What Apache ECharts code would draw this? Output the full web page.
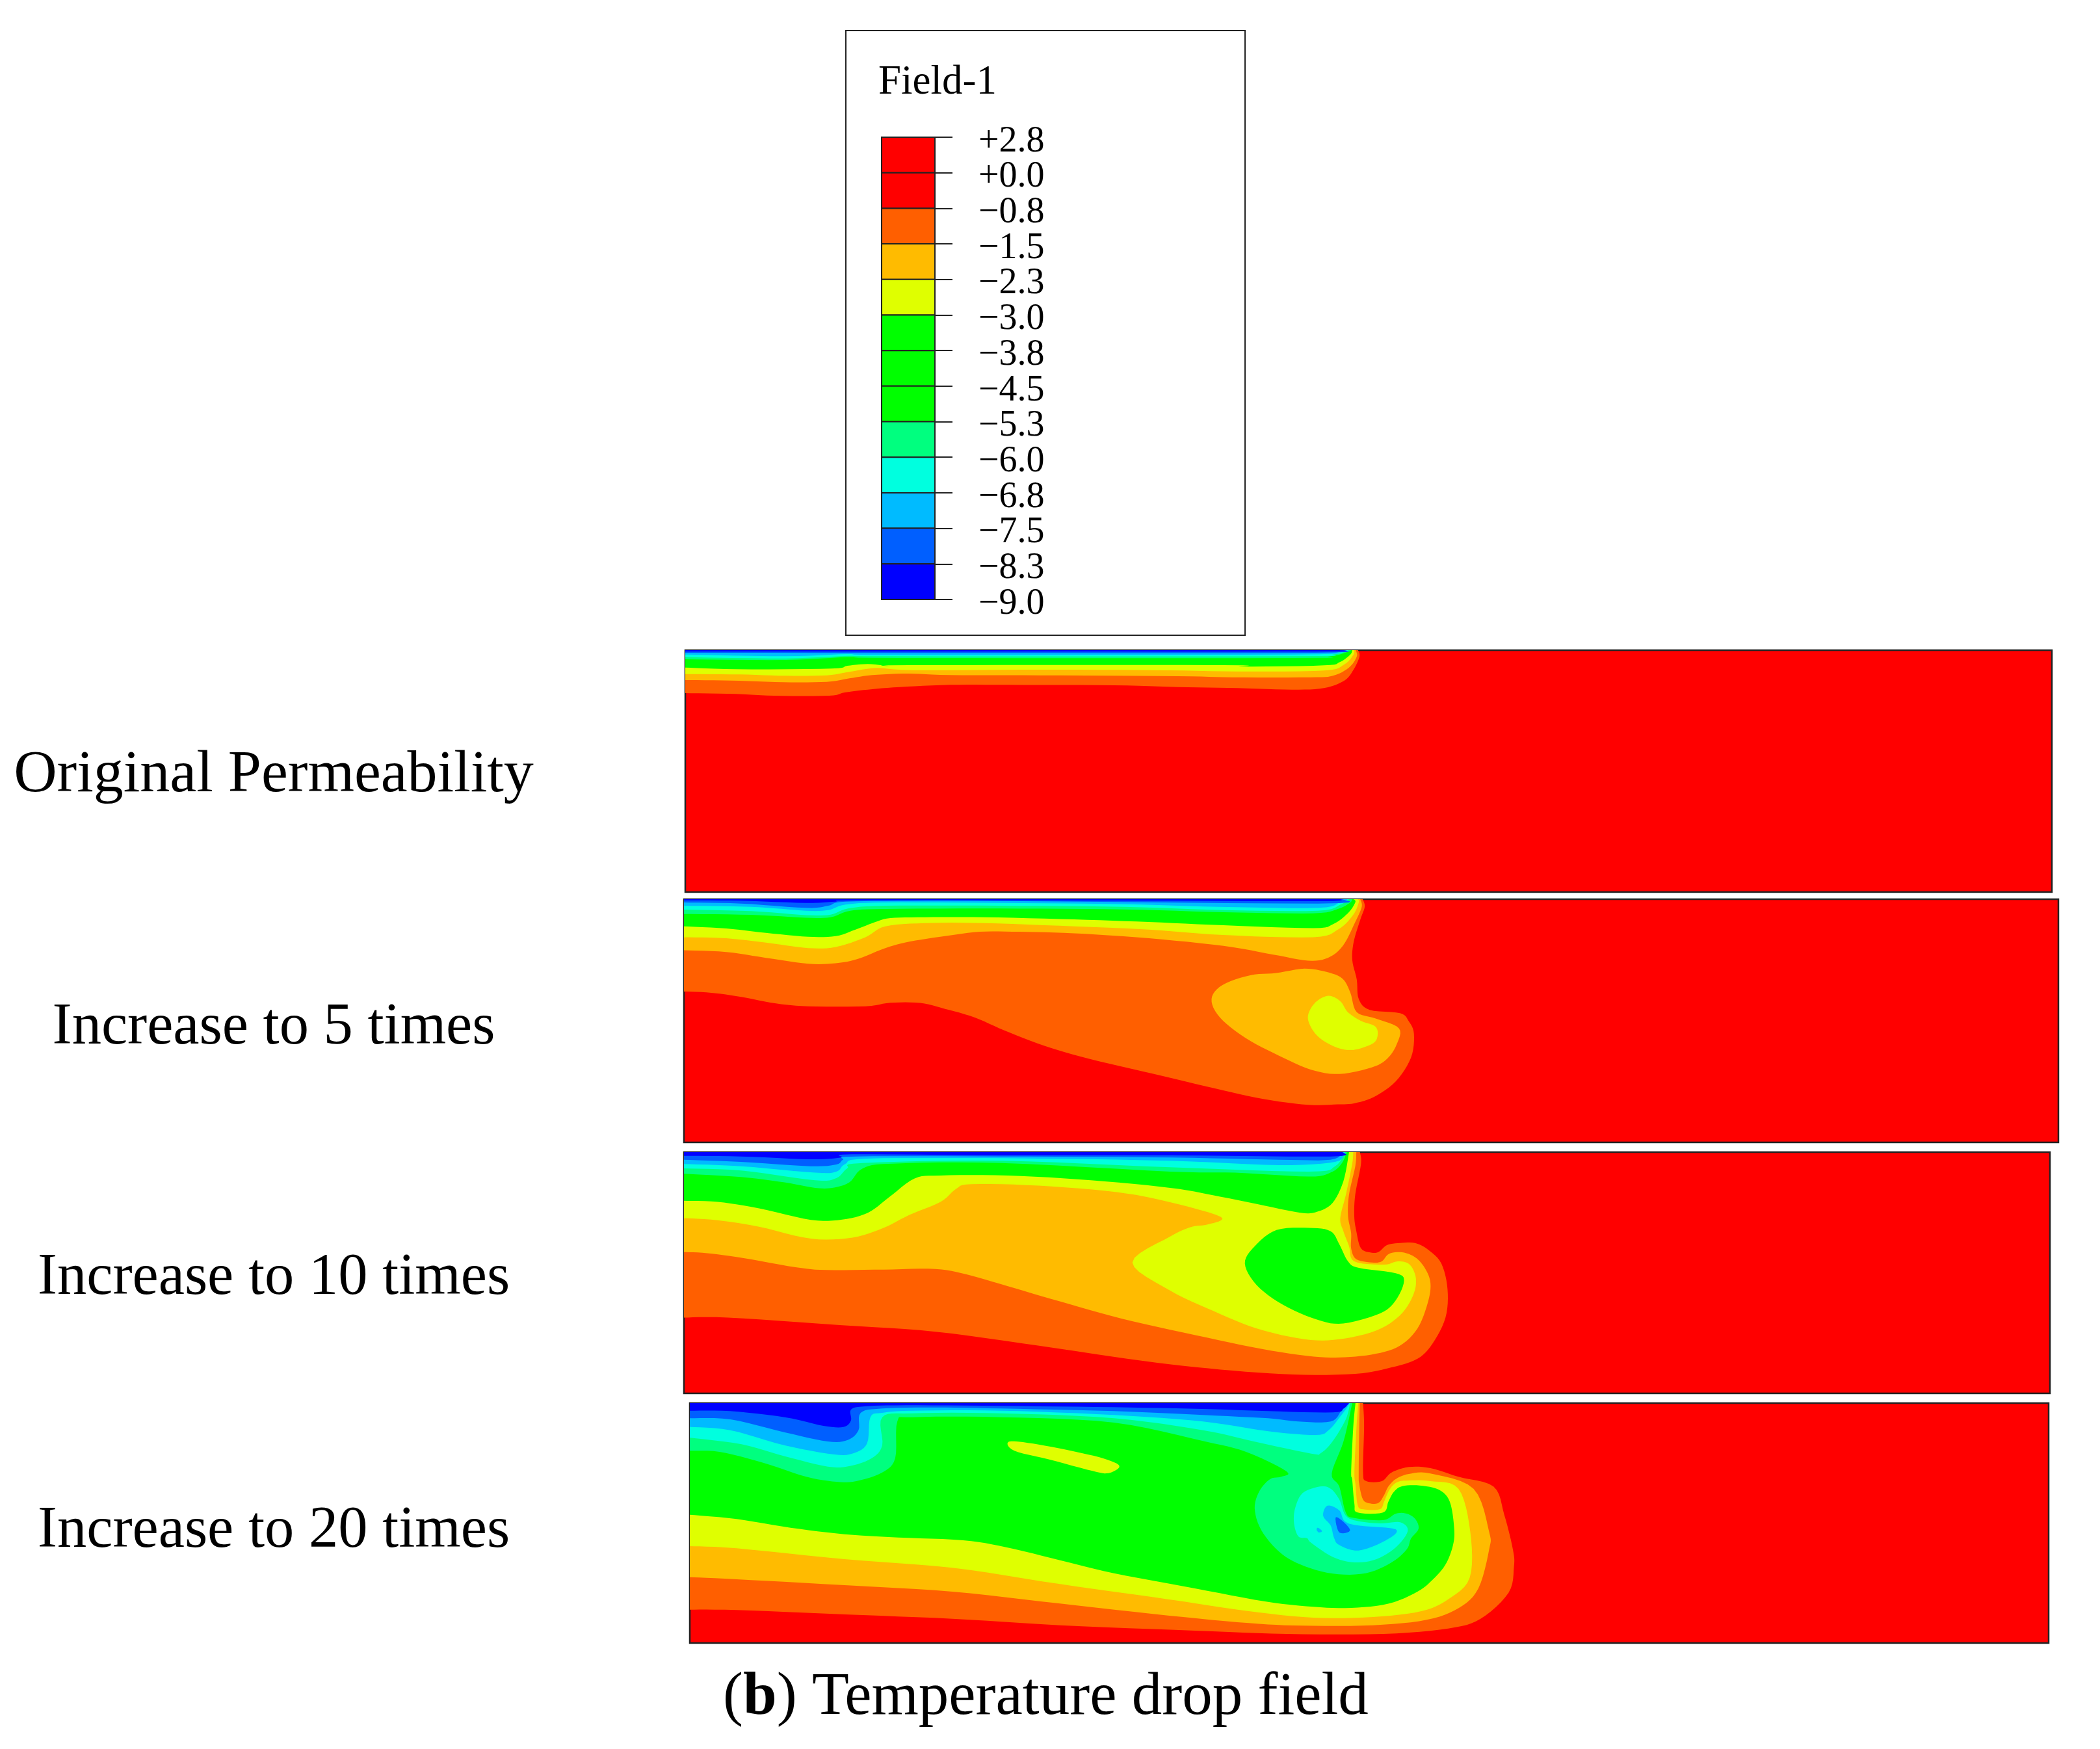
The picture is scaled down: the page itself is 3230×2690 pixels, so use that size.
<!DOCTYPE html>
<html><head><meta charset="utf-8">
<style>html,body{margin:0;background:#fff}#c{width:3230px;height:2690px}</style>
<script src="https://cdn.jsdelivr.net/npm/echarts@6/dist/echarts.min.js"></script>
</head><body><div id="c"></div>
<script>
// ---------- legend ----------
const legendTitle = 'Field-1';
const legendLabels = ['+2.8','+0.0','\u22120.8','\u22121.5','\u22122.3','\u22123.0','\u22123.8','\u22124.5','\u22125.3','\u22126.0','\u22126.8','\u22127.5','\u22128.3','\u22129.0'];
const legendColors = ['#ff0000','#ff0000','#ff5f00','#ffbb00','#dfff00','#00ff00','#00ff00','#00ff00','#00ff7f','#00ffdf','#00bbff','#005fff','#0000ff'];
const rowLabels = ['Original Permeability','Increase to 5 times','Increase to 10 times','Increase to 20 times'];

// contour colours by level
const ORANGE='#ff5f00',AMBER='#ffbb00',YELLOW='#dfff00',GREEN='#00ff00',SPRING='#00ff7f',CYAN='#00ffdf',SKY='#00bbff',MID='#005fff',DEEP='#0000ff';

// ---------- panel 1: contour lines, left edge to top surface (x along, y depth, trace units) ----------
const p1Orange=[[20,228],[130,232],[215,240],[335,240],[370,225],[420,212],[490,200],[600,190],[730,190],[960,192],[1100,200],[1230,205],[1350,212],[1420,205],[1465,170],[1485,120],[1498,60],[1495,30]];
const p1Amber=[[20,168],[120,170],[235,178],[330,176],[380,160],[430,145],[510,138],[600,145],[800,146],[1100,150],[1220,155],[1390,155],[1440,148],[1475,110],[1492,60],[1490,30]];
const p1Yellow=[[20,140],[140,142],[240,148],[330,146],[380,130],[440,112],[520,122],[800,120],[1050,122],[1230,128],[1420,124],[1465,95],[1485,50],[1486,30]];
const p1Green=[[20,110],[135,118],[340,115],[375,102],[420,94],[470,103],[510,99],[1200,99],[1240,106],[1420,100],[1455,85],[1478,50],[1482,30]];
const p1Spring=[[20,72],[240,75],[380,62],[490,66],[1350,66],[1430,60],[1470,40],[1480,30]];
const p1Cyan=[[20,62],[240,68],[380,56],[480,58],[1350,58],[1440,50],[1475,30]];
const p1Sky=[[20,50],[240,58],[380,48],[480,52],[1350,50],[1450,38],[1470,30]];
const p1Mid=[[20,42],[700,43],[1400,42],[1465,30]];
const p1Deep=[[20,36],[700,36],[1400,36],[1455,30]];

// ---------- panel 2 ----------
const p2Orange=[[15,450],[70,456],[130,475],[200,505],[265,518],[380,518],[430,502],[490,503],[540,530],[600,570],[660,630],[740,700],[830,760],[960,830],[1080,895],[1180,945],[1270,972],[1330,970],[1363,965],[1403,935],[1446,865],[1477,755],[1483,645],[1472,585],[1455,550],[1394,535],[1372,485],[1368,395],[1359,305],[1362,220],[1375,120],[1384,60],[1380,25]];
const p2Amber=[[15,260],[100,268],[180,295],[265,322],[320,320],[365,300],[420,250],[470,220],[540,195],[610,175],[690,175],[800,182],[950,205],[1100,240],[1200,280],[1270,308],[1310,295],[1340,240],[1365,130],[1378,60],[1375,25]];
const p2AmberLobe=[[1076,485],[1098,420],[1154,375],[1206,365],[1263,345],[1307,360],[1339,390],[1355,455],[1368,545],[1407,575],[1453,620],[1448,695],[1429,760],[1398,800],[1333,830],[1276,810],[1211,745],[1145,665],[1093,570]];
const p2Yellow=[[15,200],[100,205],[180,225],[265,250],[320,245],[380,200],[420,150],[500,135],[620,135],[800,150],[950,165],[1100,190],[1280,200],[1330,165],[1360,100],[1372,40],[1370,25]];
const p2YellowLobe=[[1270,560],[1285,500],[1311,470],[1335,495],[1350,545],[1376,585],[1407,615],[1407,675],[1385,705],[1355,720],[1324,705],[1294,665],[1276,615]];
const p2Green=[[15,150],[100,160],[180,180],[265,198],[320,195],[360,165],[400,130],[430,112],[500,108],[620,108],[800,118],[950,130],[1100,145],[1280,158],[1320,140],[1350,90],[1365,40],[1362,25]];
const p2Spring=[[15,93],[150,97],[260,110],[310,108],[350,78],[420,70],[650,68],[900,72],[1100,85],[1280,90],[1330,70],[1355,40],[1358,25]];
const p2Cyan=[[15,73],[150,80],[260,98],[310,96],[345,68],[420,55],[650,55],[900,60],[1100,75],[1290,78],[1335,50],[1352,25]];
const p2Sky=[[15,55],[150,60],[260,78],[305,75],[340,50],[420,40],[650,42],[900,48],[1090,60],[1290,65],[1335,38],[1350,25]];
const p2Mid=[[15,40],[130,45],[260,65],[305,55],[330,38],[420,33],[650,33],[1290,45],[1340,25]];
const p2Deep=[[15,30],[130,32],[260,42],[320,36],[350,30],[650,30],[1000,32],[1300,34],[1338,25]];

// ---------- panel 3 ----------
const p3Orange=[[15,785],[100,785],[320,820],[500,850],[700,915],[900,985],[1050,1025],[1190,1048],[1310,1045],[1380,1015],[1430,975],[1459,905],[1484,785],[1488,655],[1476,535],[1450,470],[1425,440],[1396,440],[1371,450],[1356,480],[1342,485],[1321,465],[1312,385],[1308,315],[1310,215],[1321,75],[1319,20]];
const p3Amber=[[15,482],[60,487],[130,510],[230,552],[290,565],[400,563],[500,560],[560,585],[640,640],[740,710],[860,790],[1000,865],[1130,930],[1230,965],[1290,968],[1350,952],[1396,915],[1430,835],[1450,715],[1455,625],[1444,555],[1425,505],[1400,483],[1375,490],[1361,525],[1342,530],[1312,515],[1302,465],[1302,395],[1296,315],[1298,215],[1310,85],[1312,20]];
const p3Yellow=[[15,325],[80,335],[160,365],[260,420],[340,415],[400,370],[450,310],[510,250],[540,190],[570,168],[700,175],[850,205],[950,250],[1051,320],[1024,355],[995,365],[953,410],[880,530],[953,660],[1037,755],[1120,835],[1212,885],[1279,885],[1350,845],[1396,775],[1421,685],[1427,605],[1415,540],[1392,525],[1365,540],[1308,525],[1298,455],[1287,385],[1281,325],[1292,215],[1304,75],[1306,20]];
const p3Green=[[15,245],[80,250],[160,280],[260,333],[320,332],[370,300],[410,230],[460,142],[510,128],[640,128],[800,150],[953,185],[1037,220],[1120,260],[1204,300],[1237,295],[1266,255],[1287,155],[1298,20]];
const p3GreenLobe=[[1097,535],[1116,455],[1158,380],[1221,370],[1262,385],[1279,445],[1296,525],[1317,555],[1388,580],[1404,615],[1388,705],[1358,765],[1287,812],[1237,795],[1170,725],[1120,635]];
const p3Spring=[[15,120],[125,135],[209,160],[268,185],[301,185],[334,160],[360,95],[418,73],[627,70],[953,110],[1078,115],[1220,133],[1262,115],[1283,75],[1294,20]];
const p3Cyan=[[15,95],[125,105],[268,150],[309,140],[330,95],[360,70],[627,60],[953,90],[1220,110],[1271,85],[1291,20]];
const p3Sky=[[15,75],[125,85],[268,115],[309,110],[326,75],[368,50],[627,48],[953,60],[1162,80],[1271,65],[1289,20]];
const p3Mid=[[15,55],[125,65],[259,85],[309,77],[322,55],[347,40],[627,40],[953,45],[1162,55],[1262,55],[1287,20]];
const p3Deep=[[15,37],[125,40],[259,53],[318,45],[339,30],[627,35],[953,35],[1262,40],[1285,20]];

// ---------- panel 4 ----------
const p4Orange=[[13,978],[100,980],[300,1000],[500,1020],[700,1050],[950,1075],[1120,1090],[1300,1090],[1420,1065],[1480,1020],[1532,900],[1542,780],[1540,700],[1524,540],[1504,410],[1439,365],[1387,325],[1347,320],[1315,345],[1297,385],[1268,385],[1262,340],[1264,130],[1262,25]];
const p4Amber=[[13,828],[100,838],[300,865],[500,895],[700,950],[900,1005],[1050,1040],[1150,1052],[1280,1050],[1380,1025],[1440,970],[1476,880],[1496,700],[1496,620],[1467,420],[1387,350],[1347,352],[1323,375],[1309,410],[1301,450],[1291,485],[1275,488],[1262,470],[1255,400],[1254,340],[1255,130],[1256,25]];
const p4Yellow=[[13,685],[100,695],[300,745],[500,785],[700,860],[900,930],[1050,985],[1170,1015],[1280,1012],[1370,985],[1420,930],[1460,830],[1461,620],[1439,420],[1387,385],[1347,382],[1325,390],[1311,425],[1301,480],[1293,515],[1262,515],[1252,495],[1248,400],[1246,340],[1250,130],[1253,25]];
const p4Green=[[13,540],[100,560],[200,600],[300,630],[400,645],[520,658],[600,690],[700,750],[800,810],[950,880],[1080,940],[1170,965],[1240,970],[1310,950],[1363,895],[1391,840],[1415,770],[1429,680],[1431,600],[1423,480],[1403,425],[1367,405],[1335,408],[1319,435],[1309,480],[1299,530],[1252,530],[1246,490],[1242,380],[1240,340],[1244,130],[1248,25]];
const p4Patch=[[605,203],[650,212],[720,245],[780,280],[810,315],[790,348],[760,338],[680,285],[615,245]];
const p4Spring=[[14,245],[68,250],[149,300],[229,365],[285,388],[322,385],[370,345],[394,280],[398,110],[426,90],[591,90],[800,115],[965,200],[1045,250],[1120,340],[1110,365],[1090,375],[1070,430],[1061,510],[1073,610],[1106,710],[1146,770],[1206,812],[1267,810],[1315,760],[1343,700],[1351,650],[1365,605],[1359,560],[1343,535],[1323,535],[1299,565],[1246,555],[1230,530],[1218,410],[1204,350],[1226,200],[1242,25]];
const p4Cyan=[[14,185],[109,215],[189,270],[269,318],[310,315],[350,280],[370,220],[370,90],[426,72],[591,72],[800,95],[965,150],[1065,205],[1166,258],[1184,255],[1206,200],[1230,100],[1238,25]];
const p4Sky=[[14,135],[88,150],[189,220],[281,262],[318,255],[342,210],[348,90],[370,70],[426,60],[591,60],[800,80],[965,110],[1086,155],[1174,172],[1198,150],[1222,80],[1238,25]];
const p4Mid=[[14,95],[88,100],[189,160],[269,202],[306,195],[326,150],[330,70],[370,50],[470,45],[591,50],[800,62],[965,80],[1086,95],[1142,110],[1202,110],[1222,60],[1236,25]];
const p4Deep=[[14,60],[88,62],[189,90],[261,130],[298,135],[312,105],[312,55],[338,40],[414,35],[591,38],[800,44],[965,52],[1086,62],[1206,68],[1226,50],[1236,25]];
const p4CyanLobe=[[1182,410],[1202,420],[1218,470],[1230,545],[1254,570],[1295,580],[1331,575],[1345,615],[1323,690],[1287,745],[1246,760],[1206,735],[1166,670],[1158,648],[1142,640],[1134,580],[1136,510],[1150,440]];
const p4SkyLobe=[[1196,498],[1218,520],[1228,570],[1254,590],[1323,608],[1303,660],[1254,705],[1218,680],[1208,645],[1202,590],[1188,545]];
const p4SkySpot=[[1178,600],[1186,615],[1180,622],[1176,610]];
const p4MidSpot=[[1211,555],[1222,565],[1238,612],[1218,622]];

// layout
const panels=[
 {grid:{left:1054,top:1000,width:2102,height:372},x:[20,3016],y:[30,1146],
  bands:[[p1Orange,ORANGE],[p1Amber,AMBER],[p1Yellow,YELLOW],[p1Green,GREEN],[p1Spring,SPRING],[p1Cyan,CYAN],[p1Sky,SKY],[p1Mid,MID],[p1Deep,DEEP]],loops:[]},
 {grid:{left:1052,top:1383,width:2114,height:374},x:[15,2779],y:[25,1145],
  bands:[[p2Orange,ORANGE],[p2Amber,AMBER],[p2Yellow,YELLOW],[p2Green,GREEN],[p2Spring,SPRING],[p2Cyan,CYAN],[p2Sky,SKY],[p2Mid,MID],[p2Deep,DEEP]],
  loops:[[p2AmberLobe,AMBER],[p2YellowLobe,YELLOW]]},
 {grid:{left:1052,top:1772,width:2101,height:371},x:[15,2650],y:[20,1135],
  bands:[[p3Orange,ORANGE],[p3Amber,AMBER],[p3Yellow,YELLOW],[p3Green,GREEN],[p3Spring,SPRING],[p3Cyan,CYAN],[p3Sky,SKY],[p3Mid,MID],[p3Deep,DEEP]],
  loops:[[p3GreenLobe,GREEN]]},
 {grid:{left:1061,top:2158,width:2090,height:369},x:[13,2534],y:[25,1132],
  bands:[[p4Orange,ORANGE],[p4Amber,AMBER],[p4Yellow,YELLOW],[p4Green,GREEN]],
  loops:[[p4Patch,YELLOW]],
  bands2:[[p4Spring,SPRING],[p4Cyan,CYAN],[p4Sky,SKY],[p4Mid,MID],[p4Deep,DEEP]],
  loops2:[[p4CyanLobe,CYAN],[p4SkyLobe,SKY],[p4SkySpot,SKY],[p4MidSpot,MID]]}
];

// rounded contour through traced points (Catmull-Rom)
function round(pts,closed){
  const n=pts.length,out=[];
  const at=i=>closed?pts[(i+n)%n]:pts[Math.max(0,Math.min(n-1,i))];
  const last=closed?n:n-1;
  for(let i=0;i<last;i++){
    const a=at(i-1),b=at(i),c=at(i+1),d=at(i+2);
    for(let k=0;k<6;k++){
      const t=k/6,t2=t*t,t3=t2*t;
      out.push([0,1].map(j=>0.5*(2*b[j]+(c[j]-a[j])*t+(2*a[j]-5*b[j]+4*c[j]-d[j])*t2+(3*b[j]-a[j]-3*c[j]+d[j])*t3)));
    }
  }
  if(!closed)out.push(pts[n-1]);
  return out;
}
function closeBand(curve,x,y){
  const far=300,first=curve[0],last=curve[curve.length-1];
  return round(curve,false).concat([[last[0],y[0]-far],[x[0]-far,y[0]-far],[x[0]-far,first[1]]]);
}

const series=[],grids=[],xAxes=[],yAxes=[];
panels.forEach((p,i)=>{
  grids.push(Object.assign({show:true,backgroundColor:'#ff0000',borderColor:'#222',borderWidth:2.5},p.grid));
  xAxes.push({type:'value',gridIndex:i,min:p.x[0],max:p.x[1],show:false});
  yAxes.push({type:'value',gridIndex:i,min:p.y[0],max:p.y[1],inverse:true,show:false});
  const items=[];
  const addB=l=>(l||[]).forEach(b=>items.push({pts:closeBand(b[0],p.x,p.y),color:b[1]}));
  const addL=l=>(l||[]).forEach(b=>items.push({pts:round(b[0],true),color:b[1]}));
  addB(p.bands); addL(p.loops); addB(p.bands2); addL(p.loops2);
  series.push({type:'custom',xAxisIndex:i,yAxisIndex:i,coordinateSystem:'cartesian2d',clip:true,silent:true,
    data:items.map((_,k)=>[k]),
    renderItem:(params,api)=>{
      const it=items[api.value(0)];
      return {type:'polygon',shape:{points:it.pts.map(q=>api.coord(q))},style:{fill:it.color,stroke:null}};
    }});
});

// legend colour bar
const li=panels.length;
grids.push({left:1356,top:211,width:82,height:711,show:false});
xAxes.push({type:'value',gridIndex:li,min:0,max:1,show:false});
yAxes.push({type:'value',gridIndex:li,min:0,max:13,interval:1,inverse:true,position:'right',
  axisLine:{show:true,onZero:false,lineStyle:{color:'#222',width:2}},
  axisTick:{show:true,length:27,lineStyle:{color:'#222',width:2}},
  splitLine:{show:false},axisLabel:{show:false}});
series.push({type:'custom',xAxisIndex:li,yAxisIndex:li,coordinateSystem:'cartesian2d',silent:true,
  data:legendColors.map((_,k)=>[k]),
  renderItem:(params,api)=>{
    const k=api.value(0),a=api.coord([0,k]),b=api.coord([1,k+1]);
    return {type:'rect',shape:{x:a[0],y:a[1],width:b[0]-a[0],height:b[1]-a[1]},style:{fill:legendColors[k],stroke:'#222',lineWidth:2}};
  }});
series.push({type:'custom',xAxisIndex:li,yAxisIndex:li,coordinateSystem:'cartesian2d',silent:true,clip:false,
  data:legendLabels.map((_,k)=>[k]),
  renderItem:(params,api)=>{
    const k=api.value(0),a=api.coord([1,k]);
    return {type:'text',x:a[0]+67,y:a[1]+7,style:{text:legendLabels[k],fontFamily:'Liberation Serif',fontSize:56,fill:'#000',textAlign:'left',textVerticalAlign:'middle'}};
  }});

const serif='Liberation Serif';
const rowY=[1193,1581,1966,2355];
const rowSize=[92,90.5,90.5,90.5];
const graphic=[
  {type:'rect',shape:{x:1301,y:47,width:614,height:930},style:{fill:'#fff',stroke:'#222',lineWidth:2},z:-1},
  {type:'text',x:1351,y:127,style:{text:legendTitle,fontFamily:serif,fontSize:63,fill:'#000',textAlign:'left',textVerticalAlign:'middle'}},
  {type:'text',x:1112,y:2612,style:{
    text:'({b|b}) Temperature drop field',fontFamily:serif,fontSize:93,fill:'#000',textAlign:'left',textVerticalAlign:'middle',
    rich:{b:{fontFamily:serif,fontSize:93,fontWeight:'bold',fill:'#000'}}}}
].concat(rowLabels.map((t,i)=>({type:'text',x:421,y:rowY[i],style:{text:t,fontFamily:serif,fontSize:rowSize[i],fill:'#000',textAlign:'center',textVerticalAlign:'middle'}})));

const chart=echarts.init(document.getElementById('c'));
chart.setOption({animation:false,backgroundColor:'#fff',grid:grids,xAxis:xAxes,yAxis:yAxes,series,graphic});
</script></body></html>
